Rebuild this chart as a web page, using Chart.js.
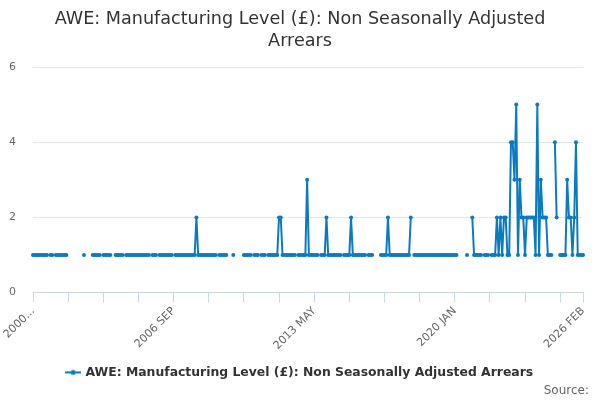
<!DOCTYPE html>
<html>
<head>
<meta charset="utf-8">
<script src="https://cdn.jsdelivr.net/npm/chart.js@4/dist/chart.umd.min.js"></script>
<style>
html,body{margin:0;padding:0;background:#fff;}
#wrap{width:600px;height:400px;position:relative;}
</style>
</head>
<body>
<div id="wrap"><canvas id="c" width="600" height="400"></canvas></div>
<script>
const titleLines = ['AWE: Manufacturing Level (£): Non Seasonally Adjusted', 'Arrears'];
const seriesName = 'AWE: Manufacturing Level (£): Non Seasonally Adjusted Arrears';
const sourceText = 'Source:';
const startYear = 2000;
const monthNames = ['JAN','FEB','MAR','APR','MAY','JUN','JUL','AUG','SEP','OCT','NOV','DEC'];
const monthCount = 314; // 2000 JAN .. 2026 FEB
const tickIndexes = [0,20,40,60,80,100,120,140,160,180,200,220,240,260,280,300,313];
const labelIndexes = [0,80,160,240,313];
const tickLabels = ['2000...','2006 SEP','2013 MAY','2020 JAN','2026 FEB'];
const yTicks = [0,2,4,6];

const values = [
 1,1,1,1,1,1,1,1,1,null,
 1,1,null,1,1,1,1,1,1,1,
 null,null,null,null,null,null,null,null,null,1,
 null,null,null,null,1,1,1,1,1,null,
 1,1,1,1,1,null,null,1,1,1,
 1,1,null,1,1,1,1,1,1,1,
 1,1,1,1,1,1,1,null,1,1,
 1,null,1,1,1,1,1,1,1,1,
 null,1,1,1,1,1,1,1,1,1,
 1,1,1,2,1,1,1,1,1,1,
 1,1,1,1,1,null,1,1,1,1,
 1,null,null,null,1,null,null,null,null,null,
 1,1,1,1,1,null,1,1,1,null,
 1,1,1,null,1,1,1,1,1,1,
 2,2,1,1,1,1,1,1,1,1,
 null,1,1,1,1,1,3,1,1,1,
 1,1,1,null,1,1,1,2,1,1,
 1,1,1,1,1,1,null,1,1,1,
 1,2,1,1,1,1,1,1,1,1,
 null,1,1,1,null,null,null,null,1,1,
 1,1,2,1,1,1,1,1,1,1,
 1,1,1,1,1,2,null,1,1,1,
 1,1,1,1,1,1,1,1,1,1,
 1,1,1,1,1,1,1,1,1,1,
 1,1,null,null,null,null,null,1,null,null,
 2,1,1,1,1,1,null,1,1,1,
 null,1,1,1,2,1,2,1,2,2,
 1,1,4,4,3,5,1,3,2,2,
 1,2,2,2,2,2,1,5,1,3,
 2,2,2,1,1,1,null,4,2,null,
 1,1,1,1,3,2,2,1,2,4,
 1,1,1,1
];

const categories = [];
for (let i = 0; i < monthCount; i++) {
  categories.push((startYear + Math.floor(i / 12)) + ' ' + monthNames[i % 12]);
}

const lineColor = '#0b7bc1';
const FONT = "'DejaVu Sans', sans-serif";

// legend glyph: short line with a dot
const glyph = document.createElement('canvas');
glyph.width = 16; glyph.height = 8;
(function(){
  const g = glyph.getContext('2d');
  g.strokeStyle = lineColor; g.lineWidth = 2;
  g.beginPath(); g.moveTo(0,4); g.lineTo(16,4); g.stroke();
  g.fillStyle = lineColor;
  g.beginPath(); g.arc(8,4,2.5,0,Math.PI*2); g.fill();
})();

const sourcePlugin = {
  id: 'sourceText',
  afterDraw(chart) {
    const ctx = chart.ctx;
    ctx.save();
    ctx.font = "normal 12px " + FONT;
    ctx.fillStyle = '#666666';
    ctx.textAlign = 'right';
    ctx.textBaseline = 'middle';
    ctx.fillText(sourceText, 589, 391);
    ctx.restore();
  }
};

new Chart(document.getElementById('c'), {
  type: 'line',
  data: {
    labels: categories,
    datasets: [{
      label: seriesName,
      data: values,
      borderColor: lineColor,
      backgroundColor: lineColor,
      borderWidth: 2,
      pointRadius: 2,
      pointHoverRadius: 3,
      pointBorderWidth: 0,
      tension: 0,
      spanGaps: false
    }]
  },
  plugins: [sourcePlugin],
  options: {
    responsive: false,
    animation: false,
    devicePixelRatio: 1,
    layout: { padding: { left: 0, right: 0, top: 8, bottom: 11.4 } },
    plugins: {
      title: {
        display: true,
        text: titleLines,
        color: '#333333',
        font: { family: FONT, size: 17.6, weight: 'normal', lineHeight: 1.25 },
        padding: { top: 0, bottom: 15 }
      },
      legend: {
        display: true,
        position: 'bottom',
        labels: {
          color: '#333333',
          font: { family: FONT, size: 12.4, weight: 'bold' },
          usePointStyle: true,
          pointStyle: glyph,
          padding: 5
        }
      },
      tooltip: { enabled: false }
    },
    scales: {
      x: {
        type: 'category',
        offset: false,
        grid: {
          display: true,
          drawOnChartArea: false,
          drawTicks: true,
          tickLength: 10,
          color: '#ccd6eb'
        },
        border: { display: true, color: '#ccd6eb', width: 1 },
        afterBuildTicks: (scale) => {
          scale.ticks = tickIndexes.map(v => ({ value: v }));
        },
        afterFit: (scale) => { scale.height = 68.6; },
        ticks: {
          autoSkip: false,
          minRotation: 45,
          maxRotation: 45,
          padding: 2,
          color: '#666666',
          font: { family: FONT, size: 11 },
          callback: function(value) {
            const k = labelIndexes.indexOf(value);
            return k >= 0 ? tickLabels[k] : '';
          }
        }
      },
      y: {
        min: 0,
        max: 6,
        afterBuildTicks: (scale) => {
          scale.ticks = yTicks.map(v => ({ value: v }));
        },
        afterFit: (scale) => { scale.width = 33; },
        grid: { color: '#e6e6e6', drawTicks: false, lineWidth: 1 },
        border: { display: false },
        ticks: {
          padding: 17,
          color: '#666666',
          font: { family: FONT, size: 11 }
        }
      },
      yRightSpace: {
        type: 'linear',
        position: 'right',
        display: true,
        grid: { display: false, drawTicks: false },
        border: { display: false },
        ticks: { display: false },
        afterFit: (scale) => { scale.width = 17; }
      }
    }
  }
});
</script>
</body>
</html>
